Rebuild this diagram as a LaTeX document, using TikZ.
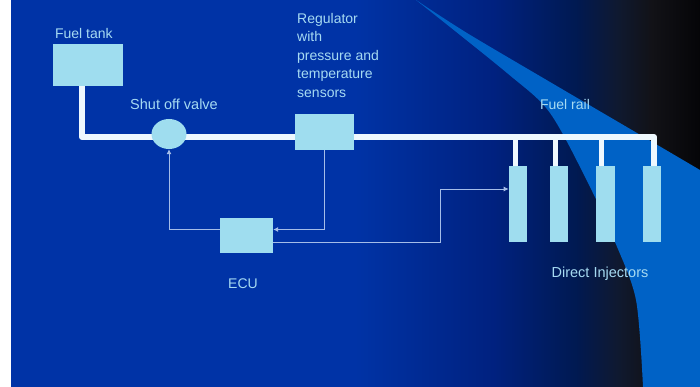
\documentclass[tikz,border=0pt]{standalone}
\usepackage{fontspec}
\setmainfont{Liberation Sans}
\usetikzlibrary{arrows.meta,positioning,backgrounds,shapes.geometric}
\definecolor{paleblue}{HTML}{9FDDEF}
\definecolor{labelblue}{HTML}{A6DAF2}
\definecolor{railwhite}{HTML}{EEF8FE}
\definecolor{wireblue}{HTML}{A5BDE8}
\definecolor{swoosh}{HTML}{0062C6}
\pgfdeclarehorizontalshading{slidebg}{100bp}{
  rgb(0bp)=(0,0.2,0.65);
  rgb(50bp)=(0,0.2,0.65);
  rgb(60bp)=(0,0.13,0.5);
  rgb(66bp)=(0,0.1,0.32);
  rgb(69bp)=(0.06,0.1,0.19);
  rgb(71.5bp)=(0.07,0.07,0.09);
  rgb(75bp)=(0.02,0.02,0.03);
  rgb(100bp)=(0.02,0.02,0.03)}

\begin{document}
\begin{tikzpicture}[
    x=1pt, y=-1pt,
    box/.style={fill=paleblue, inner sep=0pt, minimum width=#1},
    injector/.style={fill=paleblue, inner sep=0pt, minimum width=18.3pt, minimum height=76pt},
    tag/.style={text=labelblue, inner sep=0pt, font=\fontsize{14}{18.5}\selectfont},
    widetag/.style={tag, font=\fontsize{14.5}{18.5}\selectfont},
    rail/.style={draw=railwhite, line width=6pt, line join=round},
    tap/.style={draw=railwhite, line width=5pt},
    wire/.style={draw=wireblue, line width=0.8pt},
    wirearrow/.style={wire, -{Latex[length=5pt,width=5pt]}}
]
\useasboundingbox (0,0) rectangle (700,387);
\node[box=70.5pt, minimum height=42pt] (tank) at (87.75,65) {};
\node[fill=paleblue, ellipse, inner sep=0pt, minimum width=35pt, minimum height=30pt] (valve) at (169,134) {};
\node[box=58.5pt, minimum height=36pt] (regulator) at (324.25,132) {};
\node[box=53pt, minimum height=35pt] (ecu) at (246.5,235.5) {};
\node[injector] (inj1) at (518,204) {};
\node[injector, right=22pt of inj1] (inj2) {};
\node[injector, right=28pt of inj2] (inj3) {};
\node[injector, right=28pt of inj3] (inj4) {};

\node[tag, above=5pt of tank.north west, anchor=south west, xshift=2.5pt] (tanklabel) {Fuel tank};
\node[widetag, anchor=base] (valvelabel) at (174,110) {Shut off valve};
\node[tag, align=left, anchor=north west] (regulatorlabel) at (297,13) {Regulator\\with\\pressure and\\temperature\\sensors};
\node[tag, anchor=base] (raillabel) at (565,110) {Fuel rail};
\node[tag, anchor=base] (eculabel) at (243,288) {ECU};
\node[widetag, anchor=base] (injlabel) at (600,277) {Direct Injectors};

\coordinate (bend) at (82,137);
\coordinate (railend) at (654,137);
\coordinate (tap1) at (515,137);
\coordinate (tap2) at (555,137);
\coordinate (tap3) at (601.5,137);
\coordinate (wirebend) at (440,189);
\coordinate (ecuin) at (0,229.5);
\coordinate (ecuout) at (0,242);

\begin{scope}[on background layer]
\fill[white] (0,0) rectangle (700,387);
\shade[shading=slidebg] (11,0) rectangle (700,387);
\fill[swoosh] plot[smooth] coordinates {(416,0) (467,33) (550,82) (637,133) (700,170)}
  -- (700,387) -- plot[smooth] coordinates {(643,387) (636,300) (615,242) (590,187) (550,113) (507,73) (416,0)} -- cycle;
\draw[rail] (tank.south -| bend) -- (bend) -- (railend) -- (railend |- inj4.north);
\draw[tap] (tap1) -- (tap1 |- inj1.north);
\draw[tap] (tap2) -- (tap2 |- inj2.north);
\draw[tap] (tap3) -- (tap3 |- inj3.north);
\end{scope}

\draw[wirearrow] (ecu.west |- ecuin) -| (valve.south);
\draw[wirearrow] (regulator.south) |- (ecu.east |- ecuin);
\draw[wirearrow] (ecu.east |- ecuout) -| (wirebend) -- (inj1.west |- wirebend);
\end{tikzpicture}
\end{document}
